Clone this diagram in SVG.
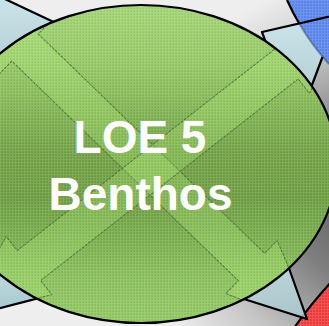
<svg xmlns="http://www.w3.org/2000/svg" width="329" height="326" viewBox="0 0 329 326">
  <defs>
    <radialGradient id="bg" gradientUnits="userSpaceOnUse" cx="370" cy="205" r="230">
      <stop offset="0" stop-color="#5a5a5a"/>
      <stop offset="0.35" stop-color="#808080"/>
      <stop offset="0.7" stop-color="#c6c6c6"/>
      <stop offset="1" stop-color="#eeeeee"/>
    </radialGradient>
    <linearGradient id="egrad" x1="0" y1="0" x2="0" y2="1">
      <stop offset="0" stop-color="#a2d372"/>
      <stop offset="0.17" stop-color="#95c765"/>
      <stop offset="0.3" stop-color="#85b755"/>
      <stop offset="0.46" stop-color="#70a043"/>
      <stop offset="0.61" stop-color="#6c9c40"/>
      <stop offset="0.74" stop-color="#78ad4c"/>
      <stop offset="0.86" stop-color="#88bf5a"/>
      <stop offset="1" stop-color="#90c761"/>
    </linearGradient>
    <linearGradient id="lblue" x1="0" y1="0" x2="0" y2="1">
      <stop offset="0" stop-color="#cde5ea"/>
      <stop offset="1" stop-color="#a9c9cf"/>
    </linearGradient>
    <pattern id="grid" width="3" height="3" patternUnits="userSpaceOnUse">
      <rect x="0" y="0" width="3" height="1" fill="#ffffff" fill-opacity="0.12"/>
      <rect x="0" y="1" width="1" height="2" fill="#ffffff" fill-opacity="0.12"/>
      <rect x="2" y="2" width="1" height="1" fill="#000000" fill-opacity="0.06"/>
    </pattern>
    <clipPath id="eclip">
      <ellipse cx="141" cy="164" rx="196" ry="159"/>
    </clipPath>
    <style>
      .edge{stroke:#000;stroke-width:2.2;fill:none;stroke-linejoin:round}
      .lb{fill:url(#lblue)}
      .arrow{fill:#b4f276;fill-opacity:0.25;stroke:#44702a;stroke-width:1.1;stroke-opacity:0.85;stroke-dasharray:3 1}
      .lbl{font-family:"Liberation Sans",Arial,sans-serif;font-weight:bold;font-size:46px;fill:#ffffff;text-anchor:middle}
    </style>
  </defs>

  <rect x="0" y="0" width="329" height="326" fill="url(#bg)"/>

  <!-- neighbouring nodes (partly visible) -->
  <g id="node-topright">
    <polygon class="lb" points="337.6,14.5 262,32 285,95 300,117"/>
    <circle cx="500" cy="-91" r="231" fill="#5a85ec"/>
    <circle cx="500" cy="-91" r="231" fill="url(#grid)"/>
    <path d="M 287,0 A 231 231 0 0 0 299.5,24" class="edge"/>
    <path d="M 299.5,24 A 231 231 0 0 0 329,64" fill="none" stroke="#34508a" stroke-width="2" stroke-opacity="0.55"/>
    <path d="M 340,14 L 262,32 L 285,95 M 322.5,57 L 300,117" class="edge"/>
  </g>

  <g id="node-topleft">
    <polygon class="lb" points="-10,-8 60,25 20,90 -10,90"/>
    <path d="M -10,-8 L 60,25" class="edge"/>
  </g>

  <g id="node-bottomleft">
    <polygon class="lb" points="-10,310.6 60,292.6 40,250 -10,240"/>
    <path d="M -10,310.6 L 60,292.6" class="edge"/>
  </g>

  <g id="node-bottomright">
    <path d="M 292,331 Q 309,306 334,279 L 334,331 Z" fill="#ef3a3a"/>
    <path d="M 292,331 Q 309,306 334,279 L 334,331 Z" fill="url(#grid)"/>
    <path d="M 292,331 Q 309,306 334,279" class="edge"/>
    <polygon points="307,319 225,293 279,240" fill="url(#lblue)" fill-opacity="0.88" class="edge" style="fill:url(#lblue)"/>
  </g>

  <!-- main node -->
  <g id="node-loe5">
    <ellipse cx="141" cy="164" rx="196" ry="159" fill="url(#egrad)"/>
    <g id="connectors" clip-path="url(#eclip)">
      <polygon class="arrow" points="-37.5,-13 50.7,20.9 38.2,33.9 264.7,253.4 277.2,240.4 314,327.5 225.8,293.6 238.3,280.6 11.8,61.1 -0.7,74.1"/>
      <polygon class="arrow" points="355,10.4 309.3,93.1 298.2,79 40.7,280.5 51.8,294.6 -39.5,319.1 6.2,236.4 17.3,250.5 274.8,49 263.7,34.9"/>
    </g>
    <ellipse cx="141" cy="164" rx="196" ry="159" fill="url(#grid)"/>
    <ellipse cx="141" cy="164" rx="196" ry="159" class="edge"/>
    <text class="lbl" x="140" y="153">LOE 5</text>
    <text class="lbl" x="140.5" y="210">Benthos</text>
  </g>
</svg>
